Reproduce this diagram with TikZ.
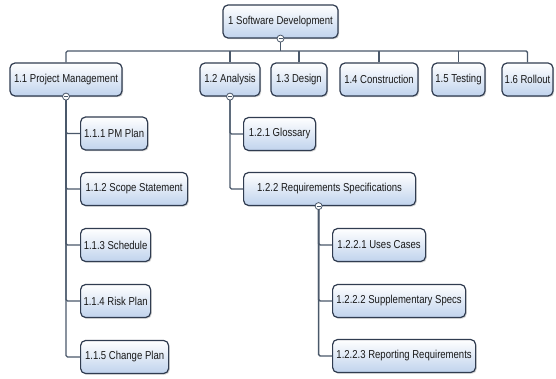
\documentclass[tikz,border=0pt]{standalone}
\usepackage{fontspec}
\setmainfont[FakeStretch=0.83]{Liberation Sans}
\usetikzlibrary{shadows}
\definecolor{boxline}{RGB}{48,60,80}
\definecolor{boxbot}{RGB}{192,211,237}
\definecolor{conncol}{RGB}{74,88,106}
\definecolor{txt}{RGB}{25,25,25}
\tikzset{
  wbs/.style={draw=boxline, line width=1.2pt, rounded corners=5pt,
    top color=white, bottom color=boxbot, minimum height=33pt,
    inner sep=0pt, font=\fontsize{11.5}{13}\selectfont, text=txt,
    drop shadow={shadow xshift=1.2pt, shadow yshift=-1.2pt, opacity=0.35}},
  conn/.style={draw=conncol, line width=1.4pt, rounded corners=1.5pt},
  marker/.style={circle, draw=conncol, line width=0.8pt, fill=white, inner sep=0pt,
    minimum size=7pt,
    path picture={\draw[conncol, line width=0.8pt] ([xshift=-2pt]path picture bounding box.center) -- ([xshift=2pt]path picture bounding box.center);}}
}
\begin{document}
\begin{tikzpicture}[x=1pt,y=-1pt]
\useasboundingbox[fill=white] (0,0) rectangle (556,379);
\coordinate (bus) at (0,51);
\node[wbs, minimum width=115pt] (root) at (280.5,21.5) {1 Software Development};
\node[wbs, minimum width=112pt] (a) at (66,79.5) {1.1 Project Management};
\node[wbs, minimum width=60pt] (b) at (230,79.5) {1.2 Analysis};
\node[wbs, minimum width=56pt] (c) at (299,79.5) {1.3 Design};
\node[wbs, minimum width=78pt] (d) at (379,79.5) {1.4 Construction};
\node[wbs, minimum width=53pt] (e) at (458.5,79.5) {1.5 Testing};
\node[wbs, minimum width=51pt] (f) at (527.5,79.5) {1.6 Rollout};

\node[wbs, anchor=west, minimum width=67pt] (a1) at (80,133.5) {1.1.1 PM Plan};
\node[wbs, anchor=west, minimum width=107pt] (a2) at (80,189) {1.1.2 Scope Statement};
\node[wbs, anchor=west, minimum width=70pt] (a3) at (80,245) {1.1.3 Schedule};
\node[wbs, anchor=west, minimum width=70pt] (a4) at (80,301) {1.1.4 Risk Plan};
\node[wbs, anchor=west, minimum width=88pt] (a5) at (80,357) {1.1.5 Change Plan};

\node[wbs, anchor=west, minimum width=72pt] (b1) at (243,134) {1.2.1 Glossary};
\node[wbs, anchor=west, minimum width=172pt] (b2) at (243,189) {1.2.2 Requirements Specifications};

\node[wbs, anchor=west, minimum width=93pt] (b21) at (332,245) {1.2.2.1 Uses Cases};
\node[wbs, anchor=west, minimum width=133pt] (b22) at (332,301) {1.2.2.2 Supplementary Specs};
\node[wbs, anchor=west, minimum width=143pt] (b23) at (332,356) {1.2.2.3 Reporting Requirements};

\coordinate (b2m) at ([xshift=-11pt]b2.south);

% connectors
\draw[conn] (root.south) -- (root.south |- bus);
\draw[conn] (a.north) -- (a.north |- bus) -- (f.north |- bus) -- (f.north);
\foreach \n in {b,c,d,e} \draw[conn] (\n.north) -- (\n.north |- bus);
\foreach \n in {a1,a2,a3,a4,a5} \draw[conn] (a.south) |- (\n.west);
\foreach \n in {b1,b2} \draw[conn] (b.south) |- (\n.west);
\foreach \n in {b21,b22,b23} \draw[conn] (b2m) |- (\n.west);
% markers
\node[marker] (mroot) at (root.south) {};
\node[marker] (ma) at (a.south) {};
\node[marker] (mb) at (b.south) {};
\node[marker] (mb2) at (b2m) {};
\end{tikzpicture}
\end{document}
